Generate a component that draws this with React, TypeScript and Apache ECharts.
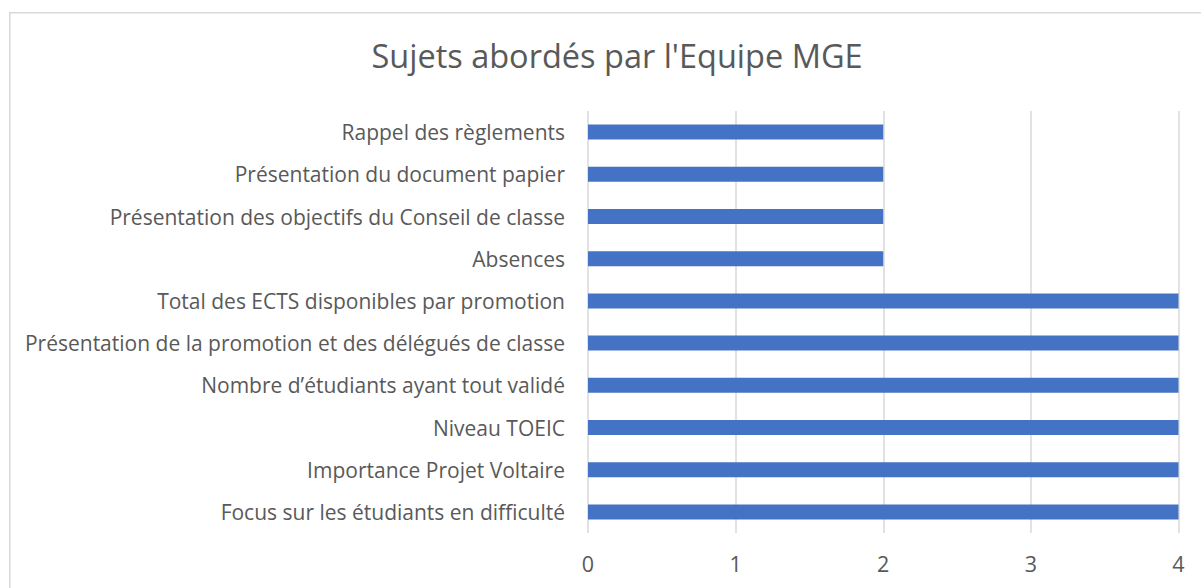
import React, { useEffect, useRef } from "react";
import * as echarts from "echarts";

const titleText = "Sujets abordés par l'Equipe MGE";
const categories = [
  "Rappel des règlements",
  "Présentation du document papier",
  "Présentation des objectifs du Conseil de classe",
  "Absences",
  "Total des ECTS disponibles par promotion",
  "Présentation de la promotion et des délégués de classe",
  "Nombre d’étudiants ayant tout validé",
  "Niveau TOEIC",
  "Importance Projet Voltaire",
  "Focus sur les étudiants en difficulté",
];
const values = [2, 2, 2, 2, 4, 4, 4, 4, 4, 4];
const xMin = 0;
const xMax = 4;
const xInterval = 1;

const FONT = "'Open Sans', 'Noto Sans', sans-serif";

export default function App() {
  const ref = useRef<HTMLDivElement>(null);
  useEffect(() => {
    if (!ref.current) return;
    const chart = echarts.init(ref.current, undefined, { renderer: "svg" });
    chart.setOption({
      animation: false,
      backgroundColor: "#ffffff",
      title: {
        text: titleText,
        left: 612,
        top: 34,
        textAlign: "center",
        textStyle: {
          fontFamily: FONT,
          fontSize: 32.5,
          fontWeight: "normal",
          color: "#595959",
        },
      },
      graphic: [
        {
          type: "rect",
          shape: { x: 9.75, y: 12.75, width: 1200, height: 600 },
          style: { fill: "none", stroke: "#d9d9d9", lineWidth: 1.5 },
          silent: true,
        },
      ],
      grid: { left: 588, right: 22.5, top: 111, bottom: 55, containLabel: false },
      xAxis: {
        type: "value",
        min: xMin,
        max: xMax,
        interval: xInterval,
        axisLine: { show: false },
        axisTick: { show: false },
        splitLine: { show: true, lineStyle: { color: "#d9d9d9", width: 1.5 } },
        axisLabel: {
          margin: 19,
          fontFamily: FONT,
          fontSize: 21.5,
          color: "#595959",
        },
      },
      yAxis: {
        type: "category",
        data: categories,
        inverse: true,
        axisLine: { show: false },
        axisTick: { show: false },
        splitLine: { show: false },
        axisLabel: {
          margin: 23,
          fontFamily: FONT,
          fontSize: 21,
          color: "#595959",
        },
      },
      series: [
        {
          type: "bar",
          data: values,
          barWidth: 15,
          itemStyle: { color: "#4472C4" },
        },
      ],
    });
    return () => chart.dispose();
  }, []);
  return (
    <div
      ref={ref}
      style={{ position: "absolute", left: 0, top: 0, width: 1201, height: 588 }}
    />
  );
}
